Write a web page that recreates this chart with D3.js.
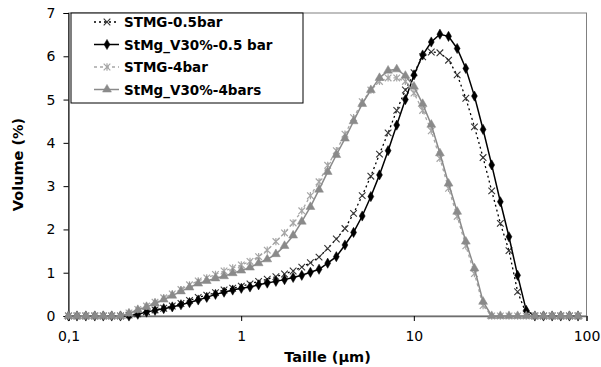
<!DOCTYPE html>
<html>
<head>
<meta charset="utf-8">
<script src="https://cdn.jsdelivr.net/npm/d3@7"></script>
<style>
  html, body { margin: 0; padding: 0; background: #fff; }
  svg { display: block; }
  text { font-family: "DejaVu Sans", Verdana, sans-serif; fill: #000; }
</style>
</head>
<body>
<svg id="chart" width="601" height="367"></svg>
<script>
// ---------- DATA ----------
const sizes = [0.100, 0.112, 0.126, 0.142, 0.159, 0.178, 0.200, 0.224, 0.252, 0.283,
  0.317, 0.356, 0.399, 0.448, 0.502, 0.564, 0.632, 0.710, 0.796, 0.893,
  1.002, 1.125, 1.262, 1.416, 1.589, 1.783, 2.000, 2.244, 2.518, 2.825,
  3.170, 3.557, 3.991, 4.477, 5.024, 5.637, 6.325, 7.096, 7.962, 8.934,
  10.024, 11.247, 12.619, 14.159, 15.887, 17.825, 20.000, 22.440, 25.179, 28.251,
  31.698, 35.566, 39.905, 44.774, 50.238, 56.368, 63.246, 70.963, 79.621, 89.337];

const stmg05 = [0, 0, 0, 0, 0, 0, 0, 0.02, 0.05, 0.10,
  0.14, 0.18, 0.23, 0.29, 0.36, 0.43, 0.48, 0.54, 0.60, 0.64,
  0.69, 0.74, 0.80, 0.85, 0.91, 0.97, 1.04, 1.13, 1.23, 1.36,
  1.56, 1.78, 2.02, 2.37, 2.78, 3.23, 3.74, 4.23, 4.75, 5.22,
  5.62, 5.99, 6.10, 6.08, 5.91, 5.57, 5.03, 4.37, 3.66, 2.89,
  2.14, 1.51, 0.56, 0.05, 0, 0, 0, 0, 0, 0];

const stmgV30_05 = [0, 0, 0, 0, 0, 0, 0, 0, 0.04, 0.09,
  0.13, 0.17, 0.21, 0.26, 0.31, 0.37, 0.43, 0.50, 0.55, 0.60,
  0.64, 0.67, 0.72, 0.76, 0.80, 0.84, 0.89, 0.94, 1.01, 1.08,
  1.22, 1.37, 1.64, 1.93, 2.31, 2.76, 3.26, 3.82, 4.41, 5.00,
  5.57, 6.03, 6.33, 6.51, 6.46, 6.18, 5.72, 5.08, 4.31, 3.49,
  2.64, 1.83, 0.94, 0.13, 0, 0, 0, 0, 0, 0];

const stmg4 = [0, 0, 0, 0, 0, 0, 0, 0.07, 0.15, 0.23,
  0.32, 0.42, 0.51, 0.61, 0.72, 0.81, 0.88, 0.96, 1.04, 1.11,
  1.18, 1.26, 1.37, 1.52, 1.72, 1.92, 2.15, 2.43, 2.78, 3.10,
  3.48, 3.82, 4.20, 4.58, 4.95, 5.22, 5.42, 5.50, 5.50, 5.42,
  5.15, 4.75, 4.28, 3.64, 2.95, 2.30, 1.62, 0.98, 0.24, 0,
  0, 0, 0, 0, 0, 0, 0, 0, 0, 0];

const stmgV30_4 = [0, 0, 0, 0, 0, 0, 0, 0.06, 0.14, 0.21,
  0.29, 0.38, 0.47, 0.57, 0.66, 0.75, 0.81, 0.87, 0.92, 0.99,
  1.05, 1.12, 1.22, 1.31, 1.43, 1.62, 1.86, 2.18, 2.52, 2.92,
  3.33, 3.72, 4.10, 4.50, 4.90, 5.22, 5.50, 5.67, 5.70, 5.55,
  5.30, 4.90, 4.42, 3.76, 3.06, 2.41, 1.72, 1.10, 0.33, 0,
  0, 0, 0, 0, 0, 0, 0, 0, 0, 0];

const seriesNames = ["STMG-0.5bar", "StMg_V30%-0.5 bar", "STMG-4bar", "StMg_V30%-4bars"];
const xTickValues = [0.1, 1, 10, 100];
const xTickLabels = ["0,1", "1", "10", "100"];
const yTickValues = [0, 1, 2, 3, 4, 5, 6, 7];
const xTitle = "Taille (µm)";
const yTitle = "Volume (%)";

// ---------- LAYOUT ----------
const W = 601, H = 367;
const plot = { left: 68.5, right: 586.5, top: 13, bottom: 316 };

const x = d3.scaleLog().domain([0.1, 100]).range([plot.left, plot.right]);
const y = d3.scaleLinear().domain([0, 7]).range([plot.bottom, plot.top]);

const svg = d3.select("#chart");

// custom marker shapes
const symTimes = {
  draw(ctx, size) {
    const r = Math.sqrt(size) / 2;
    ctx.moveTo(-r, -r); ctx.lineTo(r, r);
    ctx.moveTo(r, -r); ctx.lineTo(-r, r);
  }
};
const symStar = {
  draw(ctx, size) {
    const r = Math.sqrt(size) / 2;
    ctx.moveTo(-r, -r); ctx.lineTo(r, r);
    ctx.moveTo(r, -r); ctx.lineTo(-r, r);
    ctx.moveTo(0, -r * 1.1); ctx.lineTo(0, r * 1.1);
  }
};

const styles = [
  { data: stmg05, line: "#000", dash: "2,3", lw: 1.3, sym: symTimes, size: 44, fill: "none", mstroke: "#333", msw: 1.1 },
  { data: stmgV30_05, line: "#000", dash: null, lw: 1.5, sym: d3.symbolDiamond, size: 30, fill: "#000", mstroke: "#000", msw: 0.5 },
  { data: stmg4, line: "#a6a6a6", dash: "3,3", lw: 1.3, sym: symStar, size: 44, fill: "none", mstroke: "#a6a6a6", msw: 1.2 },
  { data: stmgV30_4, line: "#8a8a8a", dash: null, lw: 1.5, sym: d3.symbolTriangle, size: 34, fill: "#8a8a8a", mstroke: "#8a8a8a", msw: 0.5 }
];

// plot area frame
svg.append("rect")
  .attr("x", plot.left).attr("y", plot.top)
  .attr("width", plot.right - plot.left).attr("height", plot.bottom - plot.top)
  .attr("fill", "#fff").attr("stroke", "#808080").attr("stroke-width", 1);

// axes
const yAxis = d3.axisLeft(y).tickValues(yTickValues).tickSize(5).tickPadding(8).tickFormat(d3.format("d"));
const xAxis = d3.axisBottom(x).tickValues(xTickValues).tickSize(5).tickPadding(10)
  .tickFormat((d, i) => xTickLabels[i]);

const gy = svg.append("g").attr("transform", `translate(${plot.left},0)`).call(yAxis);
const gx = svg.append("g").attr("transform", `translate(0,${plot.bottom})`).call(xAxis);
[gx, gy].forEach(g => {
  g.selectAll("text").style("font-size", "14px").style("font-family", "DejaVu Sans, Verdana, sans-serif");
  g.selectAll("line").attr("stroke", "#000");
  g.select(".domain").attr("stroke", "#000");
});
gx.select(".domain").attr("stroke", "#6e6e6e").attr("stroke-width", 1.5);

// series
const line = d3.line().x((d, i) => x(sizes[i])).y(d => y(d));
styles.forEach(s => {
  svg.append("path").datum(s.data)
    .attr("d", line).attr("fill", "none")
    .attr("stroke", s.line).attr("stroke-width", s.lw)
    .attr("stroke-dasharray", s.dash);
  svg.append("g").selectAll("path").data(s.data).join("path")
    .attr("transform", (d, i) => `translate(${x(sizes[i])},${y(d)})`)
    .attr("d", d3.symbol().type(s.sym).size(s.size))
    .attr("fill", s.fill).attr("stroke", s.mstroke).attr("stroke-width", s.msw);
});

// axis titles
svg.append("text").attr("x", (plot.left + plot.right) / 2).attr("y", 362)
  .attr("text-anchor", "middle").style("font-size", "14.5px").style("font-weight", "bold").text(xTitle);
svg.append("text").attr("transform", `translate(23,${(plot.top + plot.bottom) / 2}) rotate(-90)`)
  .attr("text-anchor", "middle").style("font-size", "14.5px").style("font-weight", "bold").text(yTitle);

// legend
const leg = { x: 71, y: 13, w: 232, h: 90 };
svg.append("rect").attr("x", leg.x).attr("y", leg.y).attr("width", leg.w).attr("height", leg.h)
  .attr("fill", "#fff").attr("stroke", "#000").attr("stroke-width", 1);
const rowY = [22, 44.5, 67, 89.5];
styles.forEach((s, k) => {
  const g = svg.append("g").attr("transform", `translate(0,${rowY[k]})`);
  g.append("line").attr("x1", 94).attr("x2", 119).attr("y1", 0).attr("y2", 0)
    .attr("stroke", s.line).attr("stroke-width", s.lw).attr("stroke-dasharray", s.dash);
  g.append("path").attr("transform", "translate(107,0)")
    .attr("d", d3.symbol().type(s.sym).size(s.size))
    .attr("fill", s.fill).attr("stroke", s.mstroke).attr("stroke-width", s.msw);
  g.append("text").attr("x", 124).attr("y", 5)
    .style("font-size", "13.5px").style("font-weight", "bold").text(seriesNames[k]);
});
</script>
</body>
</html>
